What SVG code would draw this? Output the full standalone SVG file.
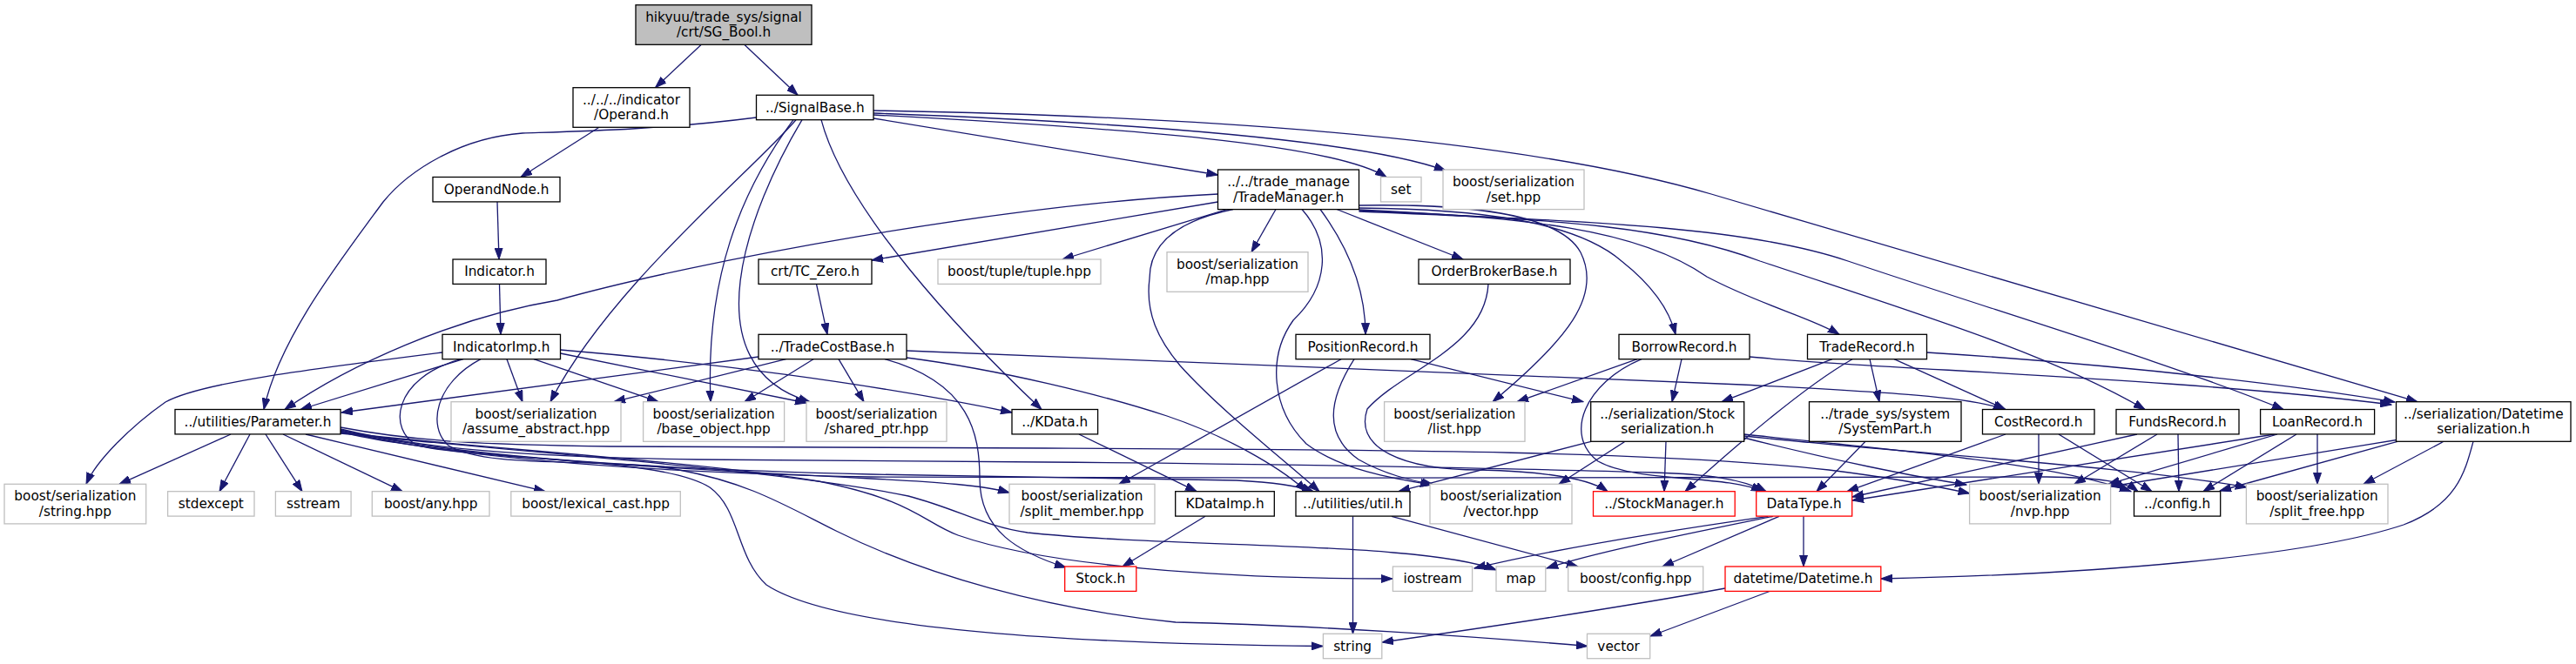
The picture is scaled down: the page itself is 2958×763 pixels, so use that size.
<svg xmlns="http://www.w3.org/2000/svg" width="2958" height="763" viewBox="0 0 2958 763">
<defs>
<style>
.node rect{fill:#ffffff;stroke:#000000;stroke-width:1.3}
.node.ext rect{stroke:#bfbfbf}
.node.red rect{stroke:#ff0000}
.node.root rect{fill:#bfbfbf}
.node text{font-family:"DejaVu Sans",sans-serif;font-size:15.3px;text-anchor:middle;fill:#000000}
.edges path{fill:none;stroke:#191970;stroke-width:1.3;marker-end:url(#arr)}
</style>
<marker id="arr" markerUnits="userSpaceOnUse" markerWidth="14" markerHeight="10" refX="13" refY="5" orient="auto">
<path d="M0,0.5 L13,5 L0,9.5 z" fill="#191970" stroke="#191970" stroke-width="1"/>
</marker>
</defs>
<rect width="2958" height="763" fill="#ffffff"/>
<g class="edges" id="edges">
<path d="M805,51.5 L752.5,100.7"/>
<path d="M855,51.5 L916,109.3"/>
<path d="M688,146.2 L598,203.5"/>
<path d="M571,231.9 L573,298"/>
<path d="M573.5,326.4 L575,384.3"/>
<path d="M937.5,326.4 L950,384.3"/>
<path d="M1003,136 L1398.5,201"/>
<path d="M1003,132 C1300,148 1530,165 1592,203.5"/>
<path d="M1003,130 C1300,141 1560,160 1660,196"/>
<path d="M1003,127 C1400,134 1750,160 1965,223 L2776,461.7"/>
<path d="M868.5,135 C760,149 660,151 600,153 C530,158 470,195 440,232 C390,300 320,390 303,470.5"/>
<path d="M914,137.7 C860,200 700,330 632,461.7"/>
<path d="M911,137.7 C850,220 810,320 816,461.7"/>
<path d="M921,137.7 C860,240 790,420 930,461.7"/>
<path d="M943,137.7 C970,240 1100,380 1196,470.5"/>
<path d="M1398.5,223 C1150,235 800,300 640,345 C520,365 400,420 327,470.5"/>
<path d="M1398.5,232 L1001,299"/>
<path d="M1409,240.5 L1220,298"/>
<path d="M1465,240.5 L1437,289.7"/>
<path d="M1416,240.5 C1360,252 1320,275 1320,320 C1315,360 1330,390 1355,420 C1400,470 1470,525 1515,564.7"/>
<path d="M1495,240.5 C1530,280 1525,330 1485,368 C1455,410 1460,470 1500,510 C1540,540 1600,550 1644,557"/>
<path d="M1516,240.5 C1545,280 1568,330 1568,384.3"/>
<path d="M1535,240.5 L1680,298"/>
<path d="M1560.5,236 C1680,234 1790,244 1815,290 C1840,340 1800,390 1714,461.7"/>
<path d="M1560.5,239 C1700,240 1810,255 1862,300 C1900,330 1918,360 1924,384.3"/>
<path d="M1560.5,241 C1750,250 1880,262 1960,318 C2020,350 2080,365 2112,384.3"/>
<path d="M1560.5,242 C1800,252 1920,262 2021,300 C2200,360 2350,405 2463,470.5"/>
<path d="M1560.5,243 C1850,255 2010,262 2122,300 C2300,360 2500,420 2622,470.5"/>
<path d="M1540,412.7 L1285,556.3"/>
<path d="M1620,412.7 L1818,461.7"/>
<path d="M1555,412.7 C1525,460 1520,500 1560,528 C1590,545 1620,552 1646,557"/>
<path d="M1709,326.4 C1705,400 1610,425 1570,470 C1555,515 1610,540 1700,540 C1780,542 1825,550 1846,564.7"/>
<path d="M1880,412.7 L1742,461.7"/>
<path d="M1931,412.7 L1920,461.7"/>
<path d="M1885,412.7 C1820,440 1795,500 1835,530 C1880,555 1980,545 2024,564.7"/>
<path d="M2009,410 C2150,424 2500,434 2746,465"/>
<path d="M2104,412.7 L1977,461.7"/>
<path d="M2127,412.7 C2070,445 1990,515 1935,564.7"/>
<path d="M2147,412.7 L2158,461.7"/>
<path d="M2175,412.7 L2303,470.5"/>
<path d="M2212.5,405 C2450,420 2650,445 2750,462"/>
<path d="M871,410 L392,474"/>
<path d="M902.5,412.7 L705,461.7"/>
<path d="M934,412.7 L855,461.7"/>
<path d="M963,412.7 L992,461.7"/>
<path d="M1016,412.7 C1115,440 1125,500 1125,550 C1125,610 1170,635 1224,652"/>
<path d="M1041,411 C1150,425 1270,455 1340,478 C1420,505 1480,545 1500,564.7"/>
<path d="M1041,403 C1500,420 1900,436 2000,442 C2150,450 2260,455 2302,470.5"/>
<path d="M532,412.7 L345,470.5"/>
<path d="M508,405 C350,425 230,440 190,462 C150,490 110,530 99,556.3"/>
<path d="M582,412.7 L600,461.7"/>
<path d="M613,412.7 L756,461.7"/>
<path d="M643.5,406 L926,463"/>
<path d="M643.5,402 C800,415 1000,440 1162,474"/>
<path d="M529,412.7 C450,435 445,495 480,512 C560,530 760,525 815,560 C850,585 845,640 880,672 C960,725 1250,740 1519,742.5"/>
<path d="M552,412.7 C500,440 490,490 515,512 C560,540 700,525 780,540 C860,555 900,580 960,610 C1060,660 1200,700 1350,715 C1500,718 1700,732 1823,742.5"/>
<path d="M265,499 L137,556.3"/>
<path d="M287,499 L252,564.7"/>
<path d="M305,499 L347,564.7"/>
<path d="M325,499 L462,564.7"/>
<path d="M351,499 L626,564.7"/>
<path d="M391,496 C500,525 800,540 1000,550 C1080,554 1130,558 1159,566"/>
<path d="M391,494 C500,520 700,538 1000,545 C1200,549 1350,550 1420,552 C1460,554 1490,558 1508,564.7"/>
<path d="M391,491 C480,508 560,511 700,513 L1200,515 C1600,517 1900,518 2100,540 C2180,550 2230,560 2261.6,567"/>
<path d="M391,493 C480,515 600,525 800,528 C1000,530 1100,531 1200,531 C1500,533 1800,540 1900,543 C1960,545 2000,550 2028,564.7"/>
<path d="M391,495 C500,522 700,542 1000,548 C1400,552 2200,546 2350,548 C2410,549 2440,553 2455,564.7"/>
<path d="M391,497 C550,515 800,530 940,553 C1050,575 1060,600 1100,615 C1200,650 1400,665 1599,665"/>
<path d="M391,498 C600,520 900,540 1043,570 C1100,585 1130,605 1180,612 C1300,625 1500,625 1600,635 C1660,640 1700,648 1718,655"/>
<path d="M2030,593.3 C1900,612 1780,632 1693,653"/>
<path d="M2036,593.3 C1930,615 1830,635 1776,653"/>
<path d="M2043,593.3 L1909,651"/>
<path d="M2071,593.3 L2071,651"/>
<path d="M1981,676 C1850,700 1700,722 1587,738"/>
<path d="M2032,679.5 L1895,731"/>
<path d="M1553.5,593.3 L1553.5,728.3"/>
<path d="M1598,593.3 L1812,651"/>
<path d="M1239,499 L1374,564.7"/>
<path d="M1384,593.3 L1289,651"/>
<path d="M1913,507.3 L1911,564.7"/>
<path d="M1827,507.3 L1606,564.7"/>
<path d="M1866,507.3 L1790,556.3"/>
<path d="M2002.6,503 C2100,528 2200,548 2258,557"/>
<path d="M2002.6,499 C2150,515 2350,530 2447,564.7"/>
<path d="M2002.6,501 C2200,522 2450,536 2580,560"/>
<path d="M2142,507.3 L2086,564.7"/>
<path d="M2303,499 L2121,564.7"/>
<path d="M2341,499 L2341,556.3"/>
<path d="M2364,499 L2471,564.7"/>
<path d="M2454,499 L2127,571"/>
<path d="M2477,499 L2382,556.3"/>
<path d="M2501,499 L2502,564.7"/>
<path d="M2612,499 L2127,575"/>
<path d="M2615,499 L2421,556.3"/>
<path d="M2637,499 L2530,564.7"/>
<path d="M2661,499 L2661,556.3"/>
<path d="M2755,505 L2424,559"/>
<path d="M2753,507.3 L2549,564"/>
<path d="M2806,507.3 L2714,556.3"/>
<path d="M2840,507.3 C2830,545 2820,580 2760,603 C2650,640 2400,660 2160,665"/>
</g>
<g id="node_sg_bool" class="node root"><rect x="730" y="5.7" width="202" height="45.6"/><text x="831" y="24.7">hikyuu/trade_sys/signal</text><text x="831" y="42.3">/crt/SG_Bool.h</text></g>
<g id="node_operand" class="node"><rect x="658" y="100.7" width="134" height="45.6"/><text x="725" y="119.7">../../../indicator</text><text x="725" y="137.3">/Operand.h</text></g>
<g id="node_signalbase" class="node"><rect x="868.5" y="109.3" width="134.5" height="28.4"/><text x="935.75" y="128.6">../SignalBase.h</text></g>
<g id="node_operandnode" class="node"><rect x="497" y="203.5" width="146" height="28.4"/><text x="570" y="222.8">OperandNode.h</text></g>
<g id="node_trademanager" class="node"><rect x="1398.5" y="195" width="162" height="45.6"/><text x="1479.5" y="214">../../trade_manage</text><text x="1479.5" y="231.6">/TradeManager.h</text></g>
<g id="node_set" class="node ext"><rect x="1585.5" y="203.5" width="46.5" height="28.4"/><text x="1608.75" y="222.8">set</text></g>
<g id="node_set_hpp" class="node ext"><rect x="1657" y="195" width="162" height="45.6"/><text x="1738" y="214">boost/serialization</text><text x="1738" y="231.6">/set.hpp</text></g>
<g id="node_indicator" class="node"><rect x="520" y="298" width="107" height="28.4"/><text x="573.5" y="317.3">Indicator.h</text></g>
<g id="node_tc_zero" class="node"><rect x="871" y="298" width="130" height="28.4"/><text x="936" y="317.3">crt/TC_Zero.h</text></g>
<g id="node_tuple" class="node ext"><rect x="1077" y="298" width="187" height="28.4"/><text x="1170.5" y="317.3">boost/tuple/tuple.hpp</text></g>
<g id="node_map_hpp" class="node ext"><rect x="1340" y="289.7" width="162" height="45.6"/><text x="1421" y="308.7">boost/serialization</text><text x="1421" y="326.3">/map.hpp</text></g>
<g id="node_orderbroker" class="node"><rect x="1629" y="298" width="174" height="28.4"/><text x="1716" y="317.3">OrderBrokerBase.h</text></g>
<g id="node_indicatorimp" class="node"><rect x="508" y="384.3" width="135.5" height="28.4"/><text x="575.75" y="403.6">IndicatorImp.h</text></g>
<g id="node_tradecostbase" class="node"><rect x="871" y="384.3" width="170" height="28.4"/><text x="956" y="403.6">../TradeCostBase.h</text></g>
<g id="node_positionrecord" class="node"><rect x="1488" y="384.3" width="154" height="28.4"/><text x="1565" y="403.6">PositionRecord.h</text></g>
<g id="node_borrowrecord" class="node"><rect x="1859" y="384.3" width="150" height="28.4"/><text x="1934" y="403.6">BorrowRecord.h</text></g>
<g id="node_traderecord" class="node"><rect x="2075.5" y="384.3" width="137" height="28.4"/><text x="2144" y="403.6">TradeRecord.h</text></g>
<g id="node_parameter" class="node"><rect x="201" y="470.5" width="190" height="28.4"/><text x="296" y="489.8">../utilities/Parameter.h</text></g>
<g id="node_assume_abstract" class="node ext"><rect x="518" y="461.7" width="195" height="45.6"/><text x="615.5" y="480.7">boost/serialization</text><text x="615.5" y="498.3">/assume_abstract.hpp</text></g>
<g id="node_base_object" class="node ext"><rect x="738.6" y="461.7" width="162" height="45.6"/><text x="819.6" y="480.7">boost/serialization</text><text x="819.6" y="498.3">/base_object.hpp</text></g>
<g id="node_shared_ptr" class="node ext"><rect x="926" y="461.7" width="161" height="45.6"/><text x="1006.5" y="480.7">boost/serialization</text><text x="1006.5" y="498.3">/shared_ptr.hpp</text></g>
<g id="node_kdata" class="node"><rect x="1162" y="470.5" width="98.6" height="28.4"/><text x="1211.3" y="489.8">../KData.h</text></g>
<g id="node_list_hpp" class="node ext"><rect x="1589.6" y="461.7" width="161.4" height="45.6"/><text x="1670.3" y="480.7">boost/serialization</text><text x="1670.3" y="498.3">/list.hpp</text></g>
<g id="node_stock_serialization" class="node"><rect x="1826.7" y="461.7" width="176" height="45.6"/><text x="1914.7" y="480.7">../serialization/Stock</text><text x="1914.7" y="498.3">serialization.h</text></g>
<g id="node_systempart" class="node"><rect x="2077.5" y="461.7" width="174.5" height="45.6"/><text x="2164.75" y="480.7">../trade_sys/system</text><text x="2164.75" y="498.3">/SystemPart.h</text></g>
<g id="node_costrecord" class="node"><rect x="2276.5" y="470.5" width="128.5" height="28.4"/><text x="2340.75" y="489.8">CostRecord.h</text></g>
<g id="node_fundsrecord" class="node"><rect x="2430" y="470.5" width="141" height="28.4"/><text x="2500.5" y="489.8">FundsRecord.h</text></g>
<g id="node_loanrecord" class="node"><rect x="2595.6" y="470.5" width="131" height="28.4"/><text x="2661" y="489.8">LoanRecord.h</text></g>
<g id="node_datetime_serialization" class="node"><rect x="2751.5" y="461.7" width="200.5" height="45.6"/><text x="2851.75" y="480.7">../serialization/Datetime</text><text x="2851.75" y="498.3">serialization.h</text></g>
<g id="node_string_hpp" class="node ext"><rect x="5" y="556.3" width="162.7" height="45.6"/><text x="86.35" y="575.3">boost/serialization</text><text x="86.35" y="592.9">/string.hpp</text></g>
<g id="node_stdexcept" class="node ext"><rect x="192.6" y="564.7" width="99.4" height="28.4"/><text x="242.3" y="584">stdexcept</text></g>
<g id="node_sstream" class="node ext"><rect x="316.4" y="564.7" width="86.7" height="28.4"/><text x="359.75" y="584">sstream</text></g>
<g id="node_any" class="node ext"><rect x="427.3" y="564.7" width="134.7" height="28.4"/><text x="494.65" y="584">boost/any.hpp</text></g>
<g id="node_lexical_cast" class="node ext"><rect x="586.8" y="564.7" width="194.5" height="28.4"/><text x="684.05" y="584">boost/lexical_cast.hpp</text></g>
<g id="node_split_member" class="node ext"><rect x="1159" y="556.3" width="167" height="45.6"/><text x="1242.5" y="575.3">boost/serialization</text><text x="1242.5" y="592.9">/split_member.hpp</text></g>
<g id="node_kdataimp" class="node"><rect x="1349.7" y="564.7" width="113.6" height="28.4"/><text x="1406.5" y="584">KDataImp.h</text></g>
<g id="node_util" class="node"><rect x="1488" y="564.7" width="131" height="28.4"/><text x="1553.5" y="584">../utilities/util.h</text></g>
<g id="node_vector_hpp" class="node ext"><rect x="1642" y="556.3" width="163" height="45.6"/><text x="1723.5" y="575.3">boost/serialization</text><text x="1723.5" y="592.9">/vector.hpp</text></g>
<g id="node_stockmanager" class="node red"><rect x="1829.5" y="564.7" width="162.7" height="28.4"/><text x="1910.85" y="584">../StockManager.h</text></g>
<g id="node_datatype" class="node red"><rect x="2016.7" y="564.7" width="110" height="28.4"/><text x="2071.7" y="584">DataType.h</text></g>
<g id="node_nvp" class="node ext"><rect x="2261.6" y="556.3" width="162" height="45.6"/><text x="2342.6" y="575.3">boost/serialization</text><text x="2342.6" y="592.9">/nvp.hpp</text></g>
<g id="node_config" class="node"><rect x="2450.5" y="564.7" width="99.2" height="28.4"/><text x="2500.1" y="584">../config.h</text></g>
<g id="node_split_free" class="node ext"><rect x="2579.4" y="556.3" width="162.6" height="45.6"/><text x="2660.7" y="575.3">boost/serialization</text><text x="2660.7" y="592.9">/split_free.hpp</text></g>
<g id="node_stock" class="node red"><rect x="1222.7" y="651" width="82.1" height="28.4"/><text x="1263.75" y="670.3">Stock.h</text></g>
<g id="node_iostream" class="node ext"><rect x="1599.4" y="651" width="91.2" height="28.4"/><text x="1645" y="670.3">iostream</text></g>
<g id="node_map" class="node ext"><rect x="1718" y="651" width="56.8" height="28.4"/><text x="1746.4" y="670.3">map</text></g>
<g id="node_boost_config" class="node ext"><rect x="1800.7" y="651" width="155" height="28.4"/><text x="1878.2" y="670.3">boost/config.hpp</text></g>
<g id="node_datetime" class="node red"><rect x="1981" y="651" width="178.8" height="28.4"/><text x="2070.4" y="670.3">datetime/Datetime.h</text></g>
<g id="node_string" class="node ext"><rect x="1519.4" y="728.3" width="67.4" height="28.4"/><text x="1553.1" y="747.6">string</text></g>
<g id="node_vector" class="node ext"><rect x="1822.5" y="728.3" width="72.2" height="28.4"/><text x="1858.6" y="747.6">vector</text></g>
</svg>
